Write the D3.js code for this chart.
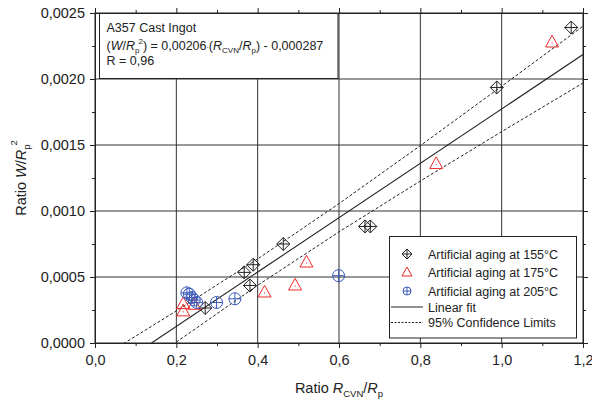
<!DOCTYPE html>
<html>
<head>
<meta charset="utf-8">
<script src="https://cdn.jsdelivr.net/npm/d3@7"></script>
<style>
  body { margin: 0; background: #fff; }
  text { font-family: "Liberation Sans", Arial, sans-serif; fill: #222; }
</style>
</head>
<body>
<div id="chart"></div>
<script>
// data
const aging155 = [
    [0.271, 0.000265], [0.367, 0.000535], [0.381, 0.000436], [0.389, 0.000593],
    [0.463, 0.00075], [0.664, 0.000883], [0.677, 0.000883], [0.988, 0.001936], [1.171, 0.00239]
];
const aging175 = [
    [0.217, 0.00024], [0.217, 0.000295], [0.244, 0.00029], [0.417, 0.000383],
    [0.492, 0.000436], [0.52, 0.00061], [0.839, 0.001356], [1.124, 0.002277]
];
const aging205 = [
    [0.226, 0.00038], [0.232, 0.00037], [0.238, 0.000345], [0.244, 0.000325],
    [0.25, 0.000307], [0.299, 0.000307], [0.344, 0.000335], [0.599, 0.00051]
];
const fitLine = [[0.139, 0], [1.2, 0.002185]];
const confX = [0.07, 0.2, 0.4, 0.6, 0.8, 1.0, 1.2];
const confUpper = [-0.000005, 0.000243, 0.000637, 0.001056, 0.001495, 0.001945, 0.0024];
const confLower = [-0.000281, 0.000007, 0.000437, 0.000842, 0.001227, 0.001601, 0.00197];
const xTicks = [0, 0.2, 0.4, 0.6, 0.8, 1.0, 1.2];
const yTicks = [0, 0.0005, 0.001, 0.0015, 0.002, 0.0025];
const legendLabels = ["Artificial aging at 155°C", "Artificial aging at 175°C", "Artificial aging at 205°C",
    "Linear fit", "95% Confidence Limits"];

const width = 592, height = 405;
const margin = { top: 13, right: 9, bottom: 62, left: 95 };
const iw = width - margin.left - margin.right;
const ih = height - margin.top - margin.bottom;

const svg = d3.select("#chart").append("svg")
    .attr("width", width)
    .attr("height", height);

const x = d3.scaleLinear().domain([0, 1.2]).range([0, iw]);
const y = d3.scaleLinear().domain([0, 0.0025]).range([ih, 0]);

const g = svg.append("g").attr("transform", `translate(${margin.left},${margin.top})`);

svg.append("defs").append("clipPath").attr("id", "clip")
    .append("rect").attr("width", iw).attr("height", ih);

// Grid lines
g.append("g").selectAll("line").data(xTicks.slice(1, -1)).enter().append("line")
    .attr("x1", d => x(d)).attr("x2", d => x(d)).attr("y1", 0).attr("y2", ih)
    .attr("stroke", "#333").attr("stroke-width", 1);
g.append("g").selectAll("line").data(yTicks.slice(1, -1)).enter().append("line")
    .attr("y1", d => y(d)).attr("y2", d => y(d)).attr("x1", 0).attr("x2", iw)
    .attr("stroke", "#333").attr("stroke-width", 1);

// Axes
const fmtX = d => d3.format(".1f")(d).replace(".", ",");
const fmtY = d => d3.format(".4f")(d).replace(".", ",");
const xMinor = d3.range(0.1, 1.2, 0.2);
const yMinor = d3.range(0.00025, 0.0025, 0.0005);

function styleAxis(sel) {
    sel.select(".domain").attr("stroke", "#222");
    sel.selectAll(".tick line").attr("stroke", "#222");
    sel.selectAll("text").style("font-size", "14.5px").attr("fill", "#222");
}

g.append("g").attr("transform", `translate(0,${ih})`)
    .call(d3.axisBottom(x).tickValues(xTicks).tickFormat(fmtX).tickSize(5).tickSizeOuter(0).tickPadding(7))
    .call(styleAxis);
g.append("g").attr("transform", `translate(0,${ih})`)
    .call(d3.axisBottom(x).tickValues(xMinor).tickFormat("").tickSize(3).tickSizeOuter(0))
    .call(styleAxis);
g.append("g")
    .call(d3.axisTop(x).tickValues(xTicks).tickFormat("").tickSize(5).tickSizeOuter(0))
    .call(styleAxis);
g.append("g")
    .call(d3.axisTop(x).tickValues(xMinor).tickFormat("").tickSize(3).tickSizeOuter(0))
    .call(styleAxis);

g.append("g")
    .call(d3.axisLeft(y).tickValues(yTicks).tickFormat(fmtY).tickSize(5).tickSizeOuter(0).tickPadding(5))
    .call(styleAxis);
g.append("g")
    .call(d3.axisLeft(y).tickValues(yMinor).tickFormat("").tickSize(3).tickSizeOuter(0))
    .call(styleAxis);
g.append("g").attr("transform", `translate(${iw},0)`)
    .call(d3.axisRight(y).tickValues(yTicks).tickFormat("").tickSize(5).tickSizeOuter(0))
    .call(styleAxis);
g.append("g").attr("transform", `translate(${iw},0)`)
    .call(d3.axisRight(y).tickValues(yMinor).tickFormat("").tickSize(3).tickSizeOuter(0))
    .call(styleAxis);

// Lines
const lineGen = d3.line().x(d => x(d[0])).y(d => y(d[1]));
const plot = g.append("g").attr("clip-path", "url(#clip)");
plot.append("path").datum(fitLine).attr("d", lineGen)
    .attr("fill", "none").attr("stroke", "#222").attr("stroke-width", 1.1);
[confUpper, confLower].forEach(arr => {
    plot.append("path").datum(confX.map((v, i) => [v, arr[i]])).attr("d", lineGen)
        .attr("fill", "none").attr("stroke", "#222").attr("stroke-width", 1)
        .attr("stroke-dasharray", "3,2");
});

// Markers
function diamond(s) { return `M0,${-s}L${s},0L0,${s}L${-s},0Z M0,${-s}V${s} M${-s},0H${s}`; }
function triangle(s) { return `M0,${-s * 1.1}L${s},${s * 0.7}L${-s},${s * 0.7}Z`; }
function circlePlus(s) { return `M${-s},0A${s},${s} 0 1,0 ${s},0A${s},${s} 0 1,0 ${-s},0Z M0,${-s}V${s} M${-s},0H${s}`; }

const red = "#ee2a2a", blue = "#3a5ab8", black = "#222";

g.append("g").selectAll("path").data(aging155).enter().append("path")
    .attr("transform", d => `translate(${x(d[0])},${y(d[1])})`)
    .attr("d", diamond(6.5)).attr("fill", "none").attr("stroke", black).attr("stroke-width", 1);
const tri = g.append("g").selectAll("g").data(aging175).enter().append("g")
    .attr("transform", d => `translate(${x(d[0])},${y(d[1])})`);
tri.append("path").attr("d", triangle(6.5)).attr("fill", "none").attr("stroke", red).attr("stroke-width", 1);
tri.append("circle").attr("r", 0.6).attr("cy", 0.5).attr("fill", red);
g.append("g").selectAll("path").data(aging205).enter().append("path")
    .attr("transform", d => `translate(${x(d[0])},${y(d[1])})`)
    .attr("d", circlePlus(6)).attr("fill", "none").attr("stroke", blue).attr("stroke-width", 1);

// Frame
g.append("rect").attr("width", iw).attr("height", ih)
    .attr("fill", "none").attr("stroke", "#222").attr("stroke-width", 1);

// Annotation box
const ann = svg.append("g");
ann.append("rect").attr("x", 99.5).attr("y", 13.5).attr("width", 238.5).attr("height", 65)
    .attr("fill", "#fff").attr("stroke", "#222").attr("stroke-width", 1);
ann.append("text").attr("x", 106.5).attr("y", 32).style("font-size", "12.5px").text("A357 Cast Ingot");
const eq = ann.append("text").attr("x", 106.5).attr("y", 49.5).style("font-size", "12.5px");
eq.append("tspan").text("(");
eq.append("tspan").attr("font-style", "italic").text("W");
eq.append("tspan").text("/");
eq.append("tspan").attr("font-style", "italic").text("R");
eq.append("tspan").attr("dy", 3).style("font-size", "8px").text("p");
eq.append("tspan").attr("dy", -9).attr("dx", -1).style("font-size", "8px").text("2");
eq.append("tspan").attr("dy", 6).text(") = 0,00206");
eq.append("tspan").style("font-size", "7px").text("·");
eq.append("tspan").text("(");
eq.append("tspan").attr("font-style", "italic").text("R");
eq.append("tspan").attr("dy", 3).style("font-size", "8px").text("CVN");
eq.append("tspan").attr("dy", -3).text("/");
eq.append("tspan").attr("font-style", "italic").text("R");
eq.append("tspan").attr("dy", 3).style("font-size", "8px").text("p");
eq.append("tspan").attr("dy", -3).text(") - 0,000287");
ann.append("text").attr("x", 106.5).attr("y", 65).style("font-size", "12.5px").text("R = 0,96");

// Axis titles
const xt = svg.append("text").attr("x", margin.left + x(0.6)).attr("y", 393)
    .attr("text-anchor", "middle").style("font-size", "14.5px");
xt.append("tspan").text("Ratio ");
xt.append("tspan").attr("font-style", "italic").text("R");
xt.append("tspan").attr("dy", 4).style("font-size", "9.5px").text("CVN");
xt.append("tspan").attr("dy", -4).text("/");
xt.append("tspan").attr("font-style", "italic").text("R");
xt.append("tspan").attr("dy", 4).style("font-size", "9.5px").text("p");

const yt = svg.append("text").attr("transform", `translate(26,${margin.top + ih / 2}) rotate(-90)`)
    .attr("text-anchor", "middle").style("font-size", "14.5px");
yt.append("tspan").text("Ratio ");
yt.append("tspan").attr("font-style", "italic").text("W");
yt.append("tspan").text("/");
yt.append("tspan").attr("font-style", "italic").text("R");
yt.append("tspan").attr("dy", 4).style("font-size", "9.5px").text("p");
yt.append("tspan").attr("dy", -13).attr("dx", -1).style("font-size", "9.5px").text("2");

// Legend
const lg = svg.append("g");
lg.append("rect").attr("x", 389.5).attr("y", 236.5).attr("width", 187).attr("height", 101.5)
    .attr("fill", "#fff").attr("stroke", "#222").attr("stroke-width", 1);
const rowsY = [254, 272.5, 291, 307, 322.5];
const symX = 407;
lg.append("path").attr("transform", `translate(${symX},${rowsY[0]})`).attr("d", diamond(5))
    .attr("fill", "none").attr("stroke", black);
lg.append("path").attr("transform", `translate(${symX},${rowsY[1]})`).attr("d", triangle(5))
    .attr("fill", "none").attr("stroke", red);
lg.append("path").attr("transform", `translate(${symX},${rowsY[2]})`).attr("d", circlePlus(4))
    .attr("fill", "none").attr("stroke", blue);
lg.append("line").attr("x1", 391).attr("x2", 423).attr("y1", rowsY[3]).attr("y2", rowsY[3])
    .attr("stroke", "#222");
lg.append("line").attr("x1", 391).attr("x2", 423).attr("y1", rowsY[4]).attr("y2", rowsY[4])
    .attr("stroke", "#222").attr("stroke-dasharray", "2,1.5");
lg.selectAll("text.lab").data(legendLabels).enter().append("text")
    .attr("class", "lab")
    .attr("x", 428).attr("y", (d, i) => rowsY[i] + 4.5)
    .style("font-size", "12.5px").text(d => d);
</script>
</body>
</html>
